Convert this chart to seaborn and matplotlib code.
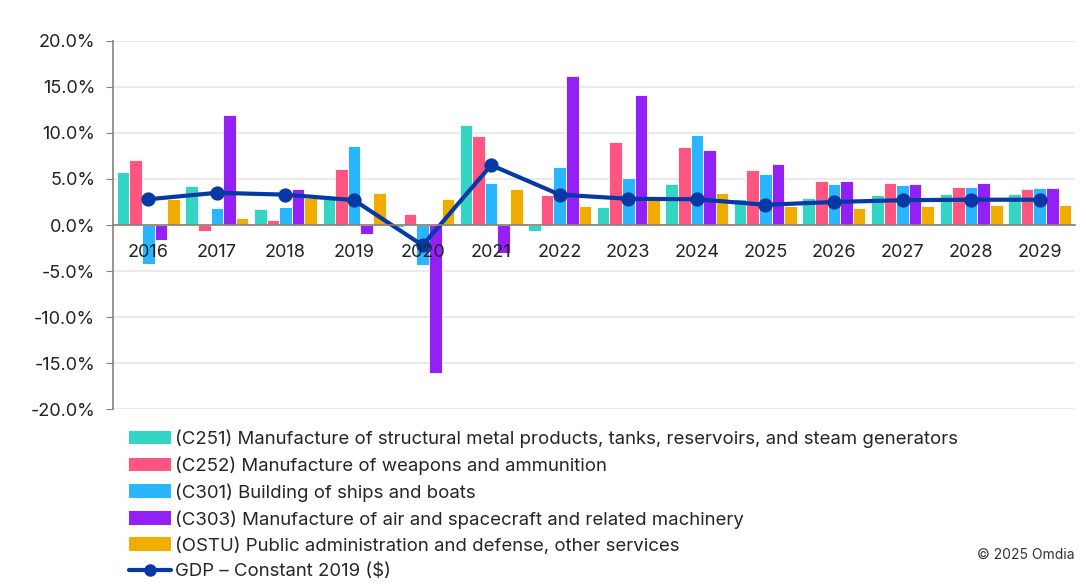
import pandas as pd
import numpy as np
import matplotlib
matplotlib.use("Agg")
import matplotlib.pyplot as plt
import seaborn as sns
from matplotlib.patches import Patch
from matplotlib.lines import Line2D

# dados (% crescimento anual)
anos = [str(a) for a in range(2016, 2030)]
c251 = [5.8, 4.25, 1.7, 2.8, -0.2, 10.9, -0.65, 2.0, 4.45, 2.85, 2.95, 3.3, 3.4, 3.4]
c252 = [7.1, -0.7, 0.6, 6.1, 1.15, 9.7, 3.3, 9.0, 8.5, 5.95, 4.75, 4.55, 4.15, 3.9]
c301 = [-4.2, 1.9, 2.0, 8.6, -4.3, 4.6, 6.3, 5.1, 9.8, 5.55, 4.45, 4.35, 4.15, 4.0]
c303 = [-1.6, 11.9, 3.9, -1.0, -16.1, -3.05, 16.15, 14.1, 8.2, 6.6, 4.75, 4.45, 4.55, 4.0]
ostu = [2.8, 0.72, 2.9, 3.5, 2.85, 3.9, 2.1, 2.8, 3.5, 2.1, 1.9, 2.1, 2.2, 2.2]
gdp = [2.8, 3.5, 3.3, 2.7, -2.2, 6.5, 3.3, 2.85, 2.8, 2.2, 2.5, 2.7, 2.75, 2.75]
yticks = [-20, -15, -10, -5, 0, 5, 10, 15, 20]

series_nomes = [
    "(C251) Manufacture of structural metal products, tanks, reservoirs, and steam generators",
    "(C252) Manufacture of weapons and ammunition",
    "(C301) Building of ships and boats",
    "(C303) Manufacture of air and spacecraft and related machinery",
    "(OSTU) Public administration and defense, other services",
]
gdp_nome = "GDP \u2013 Constant 2019 ($)"
cores = ["#33d6c5", "#ff5580", "#29b6ff", "#9321f5", "#f0ad00"]
cor_gdp = "#0638a6"

# monta tabela longa para o seaborn
linhas = []
for nome, valores in zip(series_nomes, [c251, c252, c301, c303, ostu]):
    for ano, v in zip(anos, valores):
        linhas.append({"ano": ano, "serie": nome, "valor": v / 100})
df = pd.DataFrame(linhas)
df_gdp = pd.DataFrame({"ano": anos, "gdp": np.array(gdp) / 100})

sns.set_style("white")
plt.rcParams["font.family"] = ["Inter", "DejaVu Sans"]

fig = plt.figure(figsize=(10.8, 5.83), dpi=100)
ax = fig.add_axes([0.105, 0.298, 0.89, 0.632])

# grade manual atras das barras
for t in yticks:
    ax.axhline(t / 100, color="#e6e6e6", linewidth=1.2, zorder=0)

sns.barplot(data=df, x="ano", y="valor", hue="serie", palette=cores, saturation=1,
            width=0.92, edgecolor="white", linewidth=0.6, ax=ax, legend=False, zorder=1)
sns.pointplot(data=df_gdp, x="ano", y="gdp", color=cor_gdp, markers="o",
              linewidth=3, markersize=8, ax=ax)

ax.set_ylim(-0.2, 0.2)
ax.set_xlim(-0.51, 13.51)
ax.set_yticks([t / 100 for t in yticks])
ax.set_yticklabels([f"{t:.1f}%" for t in yticks], fontsize=13)
ax.set_axisbelow(False)
ax.set_xlabel("")
ax.set_ylabel("")

# eixo x passando pelo zero, marcas entre as categorias
ax.spines["bottom"].set_position(("data", 0))
for s in ["top", "right"]:
    ax.spines[s].set_visible(False)
ax.spines["bottom"].set_color("#8c7f75")
ax.spines["left"].set_color("#8c7f75")
ax.spines["bottom"].set_linewidth(1.2)
ax.spines["left"].set_linewidth(1.2)
ax.set_xticks(np.arange(0.5, 13, 1), minor=True)
ax.tick_params(axis="x", which="major", length=0, labelsize=13, pad=14, labelcolor="#222222")
ax.tick_params(axis="x", which="minor", length=5, color="#8c7f75", direction="out")
ax.tick_params(axis="y", length=5, color="#8c7f75", direction="out", left=True, pad=8,
               labelcolor="#222222")

# legenda abaixo do grafico
handles = [Patch(facecolor=c, edgecolor="none") for c in cores]
handles.append(Line2D([0], [0], color=cor_gdp, linewidth=3, marker="o", markersize=8))
fig.legend(handles, series_nomes + [gdp_nome], loc="upper left",
           bbox_to_anchor=(0.113, 0.276), frameon=False, fontsize=13.4,
           handlelength=2.25, handleheight=0.75, handletextpad=0.2,
           labelspacing=0.45, borderaxespad=0)

fig.text(0.995, 0.048, "\u00a9 2025 Omdia", ha="right", va="center", fontsize=10, color="#333333")

fig.savefig("out.png", dpi=100)
